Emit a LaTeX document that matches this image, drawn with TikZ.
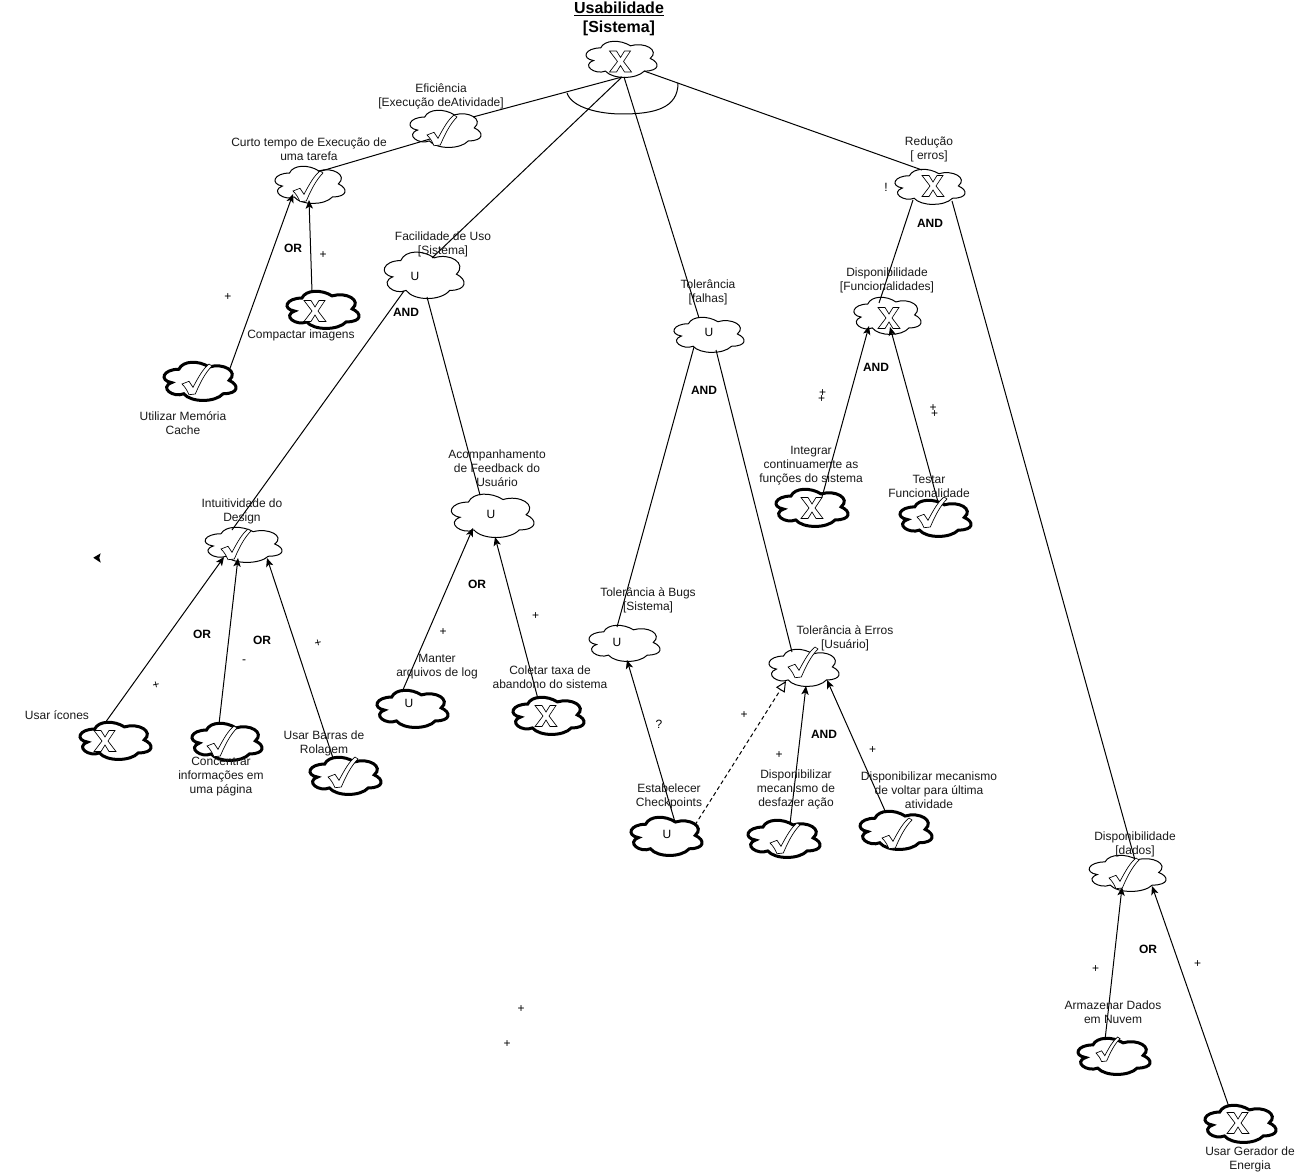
\documentclass[tikz,border=0pt]{standalone}
\usepackage{fontspec}
\setmainfont{Liberation Sans}
\usetikzlibrary{arrows.meta,calc}
\tikzset{
  x=0.75pt,y=-0.75pt,
  lbl/.style={font=\fontsize{9}{10.5}\selectfont,align=center,inner sep=0pt,text=black!90},
  gate/.style={font=\fontsize{9}{10.5}\selectfont\bfseries,inner sep=0pt},
  sign/.style={font=\fontsize{9}{10.5}\selectfont,inner sep=0pt},
  title/.style={font=\fontsize{12}{14.25}\selectfont\bfseries,align=center,inner sep=0pt},
  softcloud/.style={draw=black,line width=0.75pt,fill=white},
  taskcloud/.style={draw=black,line width=2.25pt,fill=white},
  cloudbox/.style={inner sep=0pt,font=\fontsize{9}{10.5}\selectfont},
  marker/.style={draw=black,line width=0.5pt,fill=white},
  plainlink/.style={draw=black,line width=0.75pt},
  arrowlink/.style={draw=black,line width=0.75pt,-{Stealth[length=6.5pt,width=5.5pt,inset=1.6pt]}},
  dashlink/.style={draw=black,line width=0.75pt,dash pattern=on 3pt off 2.2pt,-{Triangle[open,fill=white,length=8pt,width=7.5pt]}},
}
\newcommand\gcl[6]{%
  \draw[#6,shift={(#2,#3)},xscale=#4/.92,yscale=#5/.83]
    (-.25,-.275) .. controls (-.45,-.275) and (-.5,-.025) .. (-.34,.025)
    .. controls (-.5,.135) and (-.32,.375) .. (-.19,.275)
    .. controls (-.1,.475) and (.2,.475) .. (.3,.275)
    .. controls (.5,.275) and (.5,.075) .. (.375,-.025)
    .. controls (.5,-.225) and (.3,-.425) .. (.125,-.325)
    .. controls (0,-.475) and (-.2,-.475) .. (-.25,-.275) -- cycle;
  \node[cloudbox,minimum width=#4*0.75pt,minimum height=#5*0.75pt] (#1) at (#2,#3) {};
}
\newcommand\mkcheck[4][1]{%
  \draw[marker,shift={($(#2)+(#3,#4)$)},scale=#1]
    (-15,5) -- (-8,2.3) -- (-4,8.3) .. controls (2,-3) and (6,-10) .. (12,-15) -- (15,-13)
    .. controls (8,-6) and (3,4) .. (-1.7,15) -- (-8,15.7)
    .. controls (-10,11) and (-12,8) .. (-15,5) -- cycle;
}
\newcommand\mkcross[3]{%
  \draw[marker,shift={($(#1)+(#2,#3)$)}]
    (-11,-10.5) -- (-4,-10.5) -- (0,-4) -- (4,-10.5) -- (10,-10.5) -- (3,0) -- (11,10.5)
    -- (4,10.5) -- (0,4) -- (-4,10.5) -- (-11,10.5) -- (-3,0) -- cycle;
}
\newcommand\mkuse[3]{\node[cloudbox] (#1u) at ($(#1)+(#2,#3)$) {U};}
\begin{document}
\begin{tikzpicture}
\useasboundingbox (0,0) rectangle (1312,1173);
% clouds
\gcl{root}{620.5}{59.5}{73}{35}{softcloud}
\gcl{efic}{444.5}{129}{73}{36}{softcloud}
\gcl{curto}{309}{185}{72}{36}{softcloud}
\gcl{compactar}{322}{310}{74}{36}{taskcloud}
\gcl{memoria}{199}{381.5}{74}{37}{taskcloud}
\gcl{facil}{423}{275.5}{82}{45}{softcloud}
\gcl{toler}{708}{335}{72}{34}{softcloud}
\gcl{reducao}{929}{187}{72}{34}{softcloud}
\gcl{dfunc}{886.5}{316}{69}{36}{softcloud}
\gcl{integrar}{811}{508}{74}{36}{taskcloud}
\gcl{testar}{934.5}{518.5}{73}{35}{taskcloud}
\gcl{acomp}{491.5}{516}{85}{42}{softcloud}
\gcl{intuit}{242.5}{545}{79}{34}{softcloud}
\gcl{icones}{114.5}{741}{73}{36}{taskcloud}
\gcl{concent}{226}{742}{72}{36}{taskcloud}
\gcl{barras}{344.5}{776}{73}{36}{taskcloud}
\gcl{manter}{411.5}{709}{73}{36}{taskcloud}
\gcl{coletar}{547.5}{716}{73}{36}{taskcloud}
\gcl{bugs}{623.5}{643.5}{73}{35}{softcloud}
\gcl{erros}{803}{668}{72}{36}{softcloud}
\gcl{checkp}{665.5}{836.5}{73}{37}{taskcloud}
\gcl{desfaz}{783}{839}{74}{36}{taskcloud}
\gcl{voltar}{895}{830.5}{74}{37}{taskcloud}
\gcl{dados}{1126.5}{873.5}{79}{35}{softcloud}
\gcl{armaz}{1113}{1056.5}{74}{35}{taskcloud}
\gcl{energia}{1239.5}{1124}{73}{36}{taskcloud}
% connectors
\draw[plainlink] ($(root)+(1.5,17.5)$) -- ($(efic)+(28.5,-12)$);
\draw[plainlink] ($(root)+(1.5,17.5)$) -- ($(facil)+(9,-17.5)$);
\draw[plainlink] ($(root)+(3.5,17.5)$) -- ($(toler)+(-9,-17)$);
\draw[plainlink] ($(root)+(23.5,11.5)$) -- ($(reducao)+(-7,-17)$);
\draw[plainlink] ($(efic)+(-14.5,10)$) -- ($(curto)+(9,-13)$);
\draw[arrowlink] ($(compactar)+(-10,-18)$) -- ($(curto)+(0,15)$);
\draw[arrowlink] ($(memoria)+(30,-10.5)$) -- ($(curto)+(-16,9)$);
\draw[plainlink] ($(facil)+(-19,15.5)$) -- ($(intuit)+(-10.5,-15)$);
\draw[plainlink] ($(facil)+(4,21.5)$) -- ($(acomp)+(-11.5,-21)$);
\draw[plainlink] ($(toler)+(-14,12)$) -- ($(bugs)+(-6.5,-16.5)$);
\draw[plainlink] ($(toler)+(8,15)$) -- ($(erros)+(-11,-16)$);
\draw[plainlink] ($(reducao)+(-16,13)$) -- ($(dfunc)+(-7.5,-13)$);
\draw[plainlink] ($(reducao)+(23,14)$) -- ($(dados)+(8.5,-13.5)$);
\draw[arrowlink] ($(integrar)+(11,-11)$) -- ($(dfunc)+(-17.5,10)$);
\draw[arrowlink] ($(testar)+(3.5,-16.5)$) -- ($(dfunc)+(3.5,11)$);
\draw[arrowlink] ($(icones)+(-9.5,-18)$) -- ($(intuit)+(-18.5,12)$);
\draw[arrowlink] ($(concent)+(-7,-18)$) -- ($(intuit)+(-4.5,13)$);
\draw[arrowlink] ($(barras)+(-11.5,-18)$) -- ($(intuit)+(24.5,13)$);
\draw[arrowlink] ($(manter)+(-9.5,-17)$) -- ($(acomp)+(-18.5,12)$);
\draw[arrowlink] ($(coletar)+(-9.5,-17)$) -- ($(acomp)+(3.5,21)$);
\draw[arrowlink] ($(checkp)+(9.5,-14.5)$) -- ($(bugs)+(3.5,16.5)$);
\draw[dashlink] ($(checkp)+(29.5,-11.5)$) -- ($(erros)+(-17,13)$);
\draw[arrowlink] ($(desfaz)+(7,-15)$) -- ($(erros)+(3,18)$);
\draw[arrowlink] ($(voltar)+(-9,-17.5)$) -- ($(erros)+(24,12)$);
\draw[arrowlink] ($(armaz)+(-8,-16.5)$) -- ($(dados)+(-4.5,13.5)$);
\draw[arrowlink] ($(energia)+(-10.5,-17)$) -- ($(dados)+(25.5,12.5)$);
% marks
\mkcross{root}{0}{2}
\mkcheck{efic}{-2.5}{1}
\mkcheck{curto}{-1}{1}
\mkcross{compactar}{-7}{1}
\mkcheck{memoria}{-2}{-2.5}
\mkuse{facil}{-8}{.5}
\mkuse{toler}{1}{-3}
\mkcross{reducao}{4}{-1}
\mkcross{dfunc}{2.5}{2}
\mkcross{integrar}{1}{0}
\mkcheck{testar}{-2.5}{-6.5}
\mkuse{acomp}{-.5}{-2}
\mkcheck{intuit}{-6.5}{-1}
\mkcross{icones}{-9.5}{0}
\mkcheck{concent}{-4}{-1}
\mkcheck{barras}{-1.5}{-4}
\mkuse{manter}{-2.5}{-6}
\mkcross{coletar}{-1.5}{0}
\mkuse{bugs}{-6.5}{-1.5}
\mkcheck{erros}{0}{-6}
\mkuse{checkp}{1.5}{-2.5}
\mkcheck{desfaz}{2}{-1}
\mkcheck{voltar}{2}{2.5}
\mkcheck{dados}{-2.5}{-.5}
\mkcheck[.8]{armaz}{-5}{-7.5}
\mkcross{energia}{-1.5}{-1}
% AND arc under the root
\draw[line width=0.75pt] (567,93) .. controls (572,108) and (600,114) .. (622,114)
  .. controls (655,114) and (678,108) .. (678,83);
% stray arrowhead
\fill[black] (93.3,557.7) -- (100.7,553.3) -- (99.3,557.7) -- (100.7,562.7) -- cycle;
% labels
\node[title] (tRoot) at (619,19) {\underline{Usabilidade}\\{[Sistema]}};
\node[lbl] (tEfic) at (441,96) {Eficiência\\{[Execução deAtividade]}};
\node[lbl] (tCurto) at (309,149) {Curto tempo de Execução de\\uma tarefa};
\node[lbl] (tCompactar) at (301,335) {Compactar imagens};
\node[lbl] (tMemoria) at (183,423) {Utilizar Memória\\Cache};
\node[lbl] (tFacil) at (443,244) {Facilidade de Uso\\{[Sistema]}};
\node[lbl] (tToler) at (708,292) {Tolerância\\{[falhas]}};
\node[lbl] (tReducao) at (929,149) {Redução\\{[ erros]}};
\node[lbl] (tDfunc) at (887,280) {Disponibilidade\\{[Funcionalidades]}};
\node[lbl] (tIntegrar) at (811,466) {Integrar\\continuamente as\\funções do sistema};
\node[lbl] (tTestar) at (929,486) {Testar\\Funcionalidade};
\node[lbl] (tAcomp) at (497,468) {Acompanhamento\\de Feedback do\\Usuário};
\node[lbl] (tIntuit) at (242,511) {Intuitividade do\\Design};
\node[lbl] (tIcones) at (57,715) {Usar ícones};
\node[lbl] (tConcent) at (221,777) {Concentrar\\informações em\\uma página};
\node[lbl] (tBarras) at (324,743) {Usar Barras de\\Rolagem};
\node[lbl] (tManter) at (437,667) {Manter\\arquivos de log};
\node[lbl] (tColetar) at (550,677) {Coletar taxa de\\abandono do sistema};
\node[lbl] (tBugs) at (648,600) {Tolerância à Bugs\\{[Sistema]}};
\node[lbl] (tErros) at (845,638) {Tolerância à Erros\\{[Usuário]}};
\node[lbl] (tCheckp) at (669,796) {Estabelecer\\Checkpoints};
\node[lbl] (tDesfaz) at (796,789) {Disponibilizar\\mecanismo de\\desfazer ação};
\node[lbl] (tVoltar) at (929,790) {Disponibilizar mecanismo\\de voltar para última\\atividade};
\node[lbl] (tDados) at (1135,844) {Disponibilidade\\{[dados]}};
\node[lbl] (tArmaz) at (1113,1012) {Armazenar Dados\\em Nuvem};
\node[lbl] (tEnergia) at (1250,1159) {Usar Gerador de\\Energia};
% gates
\node[gate] (g1) at (930,223) {AND};
\node[gate] (g2) at (876,367) {AND};
\node[gate] (g3) at (406,312) {AND};
\node[gate] (g4) at (704,390) {AND};
\node[gate] (g5) at (824,734) {AND};
\node[gate] (g6) at (293,248) {OR};
\node[gate] (g7) at (202,634) {OR};
\node[gate] (g8) at (262,640) {OR};
\node[gate] (g9) at (477,584) {OR};
\node[gate] (g10) at (1148,949) {OR};
% contribution signs
\node[sign] (s1) at (886,187) {!};
\node[sign] (s2) at (323,255) {+};
\node[sign] (s3) at (228,297) {+};
\node[sign] (s4) at (443,632) {+};
\node[sign] (s5) at (535.5,616) {+};
\node[sign] (s6) at (744,715) {+};
\node[sign] (s7) at (779,755) {+};
\node[sign] (s8) at (872.5,750) {+};
\node[sign] (s9) at (1095.5,969) {+};
\node[sign] (s10) at (1197.5,964) {+};
\node[sign] (s11) at (521,1009) {+};
\node[sign] (s12) at (507,1044) {+};
\node[sign] (s13) at (822.5,393) {+};
\node[sign] (s14) at (821.5,399.5) {+};
\node[sign] (s15) at (933,408) {+};
\node[sign] (s16) at (934.5,414) {+};
\node[sign,rotate=12] (s17) at (156,685) {+};
\node[sign,rotate=12] (s18) at (318,643) {+};
\node[sign] (s19) at (244,662) {-};
\node[sign] (s20) at (659,724) {?};
\end{tikzpicture}
\end{document}
